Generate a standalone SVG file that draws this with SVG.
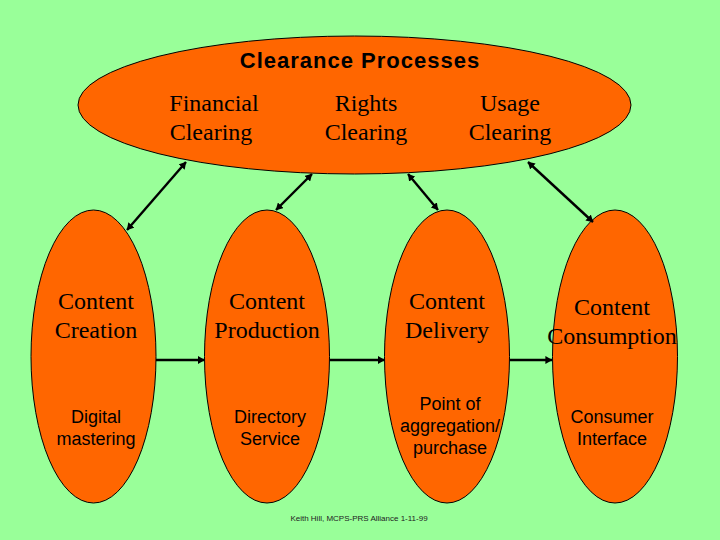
<svg xmlns="http://www.w3.org/2000/svg" width="720" height="540" viewBox="0 0 720 540">
<style>
.shape{fill:#ff6600;stroke:#000;stroke-width:1}
.s{font-family:"Liberation Serif",serif;font-size:24px;fill:#000;text-anchor:middle}
.a{font-family:"Liberation Sans",sans-serif;font-size:18px;fill:#000;text-anchor:middle}
.t{font-family:"Liberation Sans",sans-serif;font-size:22px;font-weight:700;fill:#000;text-anchor:middle;letter-spacing:1px}
.f{font-family:"Liberation Sans",sans-serif;font-size:8px;fill:#222;text-anchor:middle}
.c{stroke:#000;stroke-width:2.400;fill:none}
</style>
<defs>
<marker id="h" viewBox="0 0 10 10" refX="9.500" refY="5" markerWidth="7" markerHeight="8" markerUnits="userSpaceOnUse" orient="auto-start-reverse" preserveAspectRatio="none"><path d="M0 0L10 5L0 10z" fill="#000"/></marker>
</defs>
<rect width="720" height="540" fill="#99ff99"/>
<g id="clearance">
<ellipse class="shape" cx="354.500" cy="105" rx="276.500" ry="69"/>
<text class="t" x="360" y="68">Clearance Processes</text>
<text class="s" x="214" y="111">Financial</text><text class="s" x="211" y="140">Clearing</text>
<text class="s" x="366" y="111">Rights</text><text class="s" x="366" y="140">Clearing</text>
<text class="s" x="510" y="111">Usage</text><text class="s" x="510" y="140">Clearing</text>
</g>
<g id="creation">
<ellipse class="shape" cx="93.500" cy="356.500" rx="62.500" ry="146.500"/>
<text class="s" x="96" y="309">Content</text><text class="s" x="96" y="338">Creation</text>
<text class="a" x="96" y="423">Digital</text><text class="a" x="96" y="445">mastering</text>
</g>
<g id="production">
<ellipse class="shape" cx="267" cy="356.500" rx="62.500" ry="146.500"/>
<text class="s" x="267" y="309">Content</text><text class="s" x="267" y="338">Production</text>
<text class="a" x="270" y="423">Directory</text><text class="a" x="270" y="445">Service</text>
</g>
<g id="delivery">
<ellipse class="shape" cx="447" cy="356.500" rx="62.500" ry="146.500"/>
<text class="s" x="447" y="309">Content</text><text class="s" x="447" y="338">Delivery</text>
<text class="a" x="450" y="410">Point of</text><text class="a" x="450" y="432">aggregation/</text><text class="a" x="450" y="454">purchase</text>
</g>
<g id="consumption">
<ellipse class="shape" cx="615" cy="356.500" rx="62.500" ry="146.500"/>
<text class="s" x="612" y="315">Content</text><text class="s" x="612" y="344">Consumption</text>
<text class="a" x="612" y="423">Consumer</text><text class="a" x="612" y="445">Interface</text>
</g>
<g id="connectors">
<line class="c" x1="127" y1="230" x2="186" y2="162" marker-start="url(#h)" marker-end="url(#h)"/>
<line class="c" x1="276" y1="210" x2="312" y2="174" marker-start="url(#h)" marker-end="url(#h)"/>
<line class="c" x1="438" y1="210" x2="408" y2="174" marker-start="url(#h)" marker-end="url(#h)"/>
<line class="c" x1="593" y1="222" x2="528" y2="162" marker-start="url(#h)" marker-end="url(#h)"/>
<line class="c" x1="156" y1="360" x2="204.500" y2="360" marker-end="url(#h)"/>
<line class="c" x1="330" y1="360" x2="384.500" y2="360" marker-end="url(#h)"/>
<line class="c" x1="510" y1="360" x2="552" y2="360" marker-end="url(#h)"/>
</g>
<text class="f" x="359" y="521">Keith Hill, MCPS-PRS Alliance 1-11-99</text>
</svg>
